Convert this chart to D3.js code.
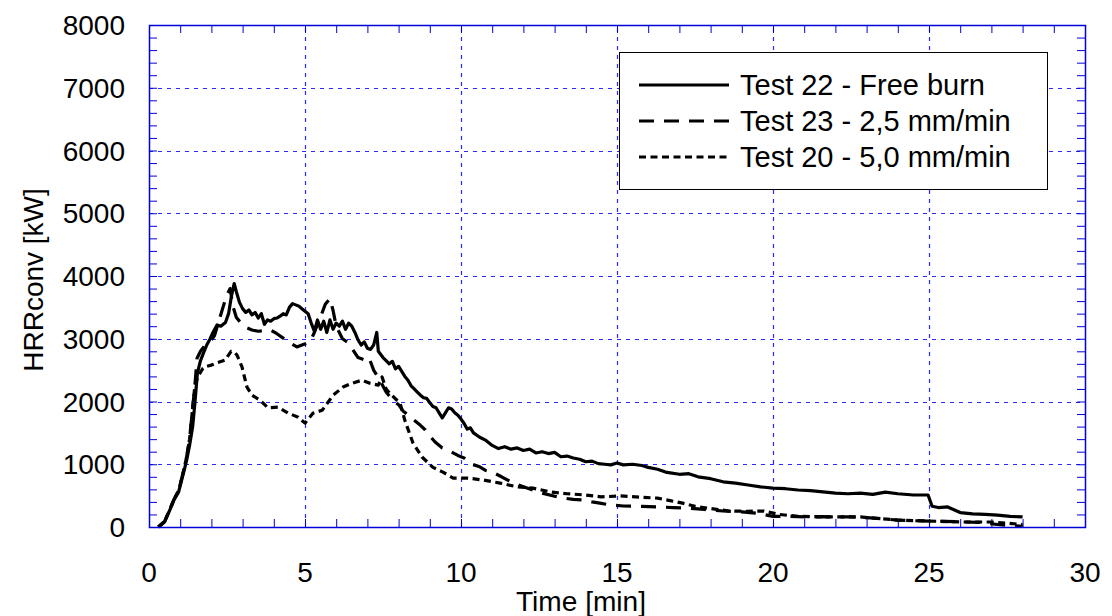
<!DOCTYPE html>
<html>
<head>
<meta charset="utf-8">
<script src="https://cdn.jsdelivr.net/npm/d3@7"></script>
<style>
  body { margin: 0; background: #fff; }
  svg { display: block; font-family: "Liberation Sans", Arial, sans-serif; }
</style>
</head>
<body>
<div id="chart"></div>
<script>
// Data
//////////////////////////////////////////////////////////////////////
var xTicks = [0, 5, 10, 15, 20, 25, 30];
var yTicks = [0, 1000, 2000, 3000, 4000, 5000, 6000, 7000, 8000];
var seriesNames = ["Test 22 - Free burn", "Test 23 - 2,5 mm/min", "Test 20 - 5,0 mm/min"];

// Test 22 - free burn (solid)
var t22 = [0.3, 0.5, 0.65, 0.8, 0.95, 1.1, 1.2, 1.3, 1.4, 1.47, 1.55, 1.65, 1.75, 1.85, 1.96, 2.05, 2.18, 2.3, 2.45, 2.55, 2.65, 2.73, 2.8, 2.9,
  3.0, 3.1, 3.2, 3.3, 3.4, 3.5, 3.6, 3.7, 3.8, 3.9, 4.0, 4.1, 4.2, 4.3, 4.4, 4.5, 4.6, 4.7, 4.8, 4.9,
  5.0, 5.1, 5.2, 5.3, 5.4, 5.5, 5.6, 5.7, 5.8, 5.9, 6.0, 6.1, 6.2, 6.3, 6.4, 6.5, 6.6, 6.7, 6.8, 6.9,
  7.0, 7.1, 7.2, 7.3, 7.35, 7.5, 7.6, 7.7, 7.8, 7.9, 8.0, 8.1, 8.2, 8.3, 8.4, 8.5, 8.6, 8.7, 8.8, 8.9,
  9.0, 9.1, 9.2, 9.3, 9.4, 9.5, 9.6, 9.7, 9.8, 9.9, 10.0, 10.1, 10.2, 10.3, 10.4, 10.6, 10.8,
  11.0, 11.2, 11.4, 11.6, 11.8, 12.0, 12.2, 12.4, 12.6, 12.8, 13.0, 13.2, 13.4, 13.6, 13.8,
  14.0, 14.2, 14.4, 14.6, 14.8, 15.0, 15.2, 15.5, 15.8, 16.0, 16.3, 16.6, 17.0, 17.3, 17.6,
  18.0, 18.4, 18.8, 19.2, 19.6, 20.0, 20.4, 20.8, 21.2, 21.6, 22.0, 22.4, 22.8, 23.2, 23.6,
  24.0, 24.5, 24.97, 25.1, 25.3, 25.6, 26.0, 26.4, 26.8, 27.2, 27.6, 28.0];
var hrr22 = [0, 80, 250, 430, 560, 850, 1050, 1300, 1600, 1970, 2450, 2650, 2780, 2900, 3000, 3100, 3220, 3200, 3260, 3400, 3700, 3880, 3750, 3580,
  3480, 3420, 3460, 3380, 3420, 3330, 3400, 3230, 3300, 3280, 3320, 3330, 3360, 3400, 3380, 3500, 3560, 3540, 3520, 3480,
  3440, 3400, 3250, 3120, 3300, 3150, 3280, 3100, 3300, 3150, 3250, 3200, 3280, 3150, 3250, 3200, 3100, 2980, 2900, 2950,
  2850, 2830, 2900, 3100, 2800, 2700, 2650, 2600, 2640, 2520, 2560, 2480, 2400, 2340, 2250, 2200, 2150, 2100, 2060, 2050,
  1980, 1920, 1900, 1820, 1740, 1820, 1900, 1880, 1820, 1780, 1720, 1650, 1560, 1580, 1500, 1430, 1380,
  1300, 1250, 1280, 1240, 1260, 1220, 1240, 1180, 1200, 1170, 1190, 1120, 1130, 1100, 1080,
  1040, 1050, 1010, 1000, 990, 1020, 990, 1000, 980, 950, 920, 870, 840, 850, 800,
  770, 720, 700, 670, 640, 620, 610, 590, 580, 560, 540, 530, 540, 520, 555,
  530, 510, 510, 330, 310, 320, 230, 210, 200, 190, 170, 160];

// Test 23 - 2,5 mm/min (dashed)
var t23 = [0.3, 0.5, 0.65, 0.8, 0.95, 1.1, 1.2, 1.3, 1.4, 1.47, 1.54, 1.65, 1.8, 1.96, 2.1, 2.25, 2.37, 2.5, 2.6, 2.7, 2.8, 2.95,
  3.1, 3.3, 3.5, 3.7, 3.9, 4.1, 4.3, 4.5, 4.74, 4.9, 5.16, 5.3, 5.5, 5.65, 5.8, 5.9, 6.0, 6.2, 6.35, 6.5, 6.7, 6.92,
  7.05, 7.2, 7.4, 7.6, 7.82, 8.0, 8.14, 8.27, 8.5, 8.7, 8.85, 9.0, 9.17, 9.4, 9.7, 9.9, 10.1, 10.35, 10.6, 10.8,
  11.0, 11.3, 11.6, 12.0, 12.3, 12.6, 13.0, 13.3, 13.6, 13.9, 14.2, 14.45, 14.8, 15.2, 15.8, 16.3, 16.8, 17.3, 17.8,
  18.4, 19.0, 19.5, 20.0, 20.5, 21.1, 21.6, 22.0, 22.5, 23.0, 23.5, 24.0, 24.5, 25.0, 25.5, 26.1, 26.6, 27.2, 28.0];
var hrr23 = [0, 90, 260, 440, 580, 880, 1100, 1400, 1900, 2250, 2690, 2800, 2900, 2950, 3050, 3300, 3500, 3700, 3800, 3500, 3340, 3250,
  3180, 3140, 3120, 3130, 3140, 3080, 3010, 2940, 2870, 2900, 2950, 3100, 3350, 3550, 3640, 3450, 3200, 3000, 2950, 2850, 2700, 2660,
  2700, 2500, 2340, 2150, 2020, 1950, 1850, 1800, 1700, 1620, 1550, 1450, 1355, 1260, 1195, 1140, 1100, 1000, 960, 900,
  875, 800, 720, 640, 590, 540, 490, 460, 440, 430, 400, 380, 350, 335, 330, 320, 310, 300, 280,
  255, 240, 220, 170, 170, 160, 165, 160, 160, 150, 130, 110, 100, 95, 90, 80, 75, 40, 10];

// Test 20 - 5,0 mm/min (dotted)
var t20 = [0.3, 0.5, 0.65, 0.8, 0.95, 1.1, 1.2, 1.3, 1.4, 1.47, 1.57, 1.73, 1.85, 2.0, 2.2, 2.44, 2.63, 2.75, 2.82, 2.98,
  3.14, 3.3, 3.56, 3.81, 4.13, 4.46, 4.78, 5.0, 5.26, 5.55, 5.9, 6.22, 6.5, 6.83, 7.08, 7.35, 7.47, 7.6, 7.72,
  8.05, 8.2, 8.46, 8.75, 9.1, 9.42, 9.75, 10.2, 10.7, 11.25, 11.8, 12.3, 12.85, 13.4, 14.0, 14.5, 15.1, 15.6,
  16.3, 16.7, 17.1, 17.5, 17.9, 18.6, 19.2, 19.7, 20.2, 20.8, 21.8, 22.8, 24.0, 25.0, 26.1, 27.0, 27.5, 28.0];
var hrr20 = [0, 90, 260, 440, 580, 880, 1100, 1400, 1900, 2250, 2400, 2530, 2560, 2580, 2620, 2660, 2800, 2780, 2740, 2550,
  2230, 2100, 2020, 1900, 1910, 1815, 1750, 1655, 1815, 1860, 2100, 2230, 2290, 2340, 2290, 2260, 2390, 2200, 2130,
  1970, 1700, 1340, 1115, 950, 875, 780, 780, 750, 700, 640, 620, 560, 530, 510, 480, 495, 480,
  460, 420, 380, 330, 300, 255, 250, 255, 200, 170, 160, 160, 110, 95, 80, 80, 60, 40];

// Layout
//////////////////////////////////////////////////////////////////////
var width = 1112, height = 616;
var margin = { top: 25, right: 27, bottom: 89, left: 149 };
var frameColor = "#0000d8";
var gridColor = "#2a2aff";

var svg = d3.select("#chart").append("svg")
  .attr("width", width)
  .attr("height", height);

var x = d3.scaleLinear().domain([0, 30]).range([margin.left, width - margin.right]);
var y = d3.scaleLinear().domain([0, 8000]).range([height - margin.bottom, margin.top]);

// grid
var grid = svg.append("g")
  .attr("stroke", gridColor)
  .attr("stroke-width", 1.2)
  .attr("stroke-dasharray", "4,5");
grid.selectAll("line.gx")
  .data(xTicks.slice(1, -1))
  .join("line")
  .attr("class", "gx")
  .attr("x1", d => Math.round(x(d)) + 0.5).attr("x2", d => Math.round(x(d)) + 0.5)
  .attr("y1", y(0)).attr("y2", y(8000));
grid.selectAll("line.gy")
  .data(yTicks.slice(1, -1))
  .join("line")
  .attr("class", "gy")
  .attr("y1", d => Math.round(y(d)) + 0.5).attr("y2", d => Math.round(y(d)) + 0.5)
  .attr("x1", x(0)).attr("x2", x(30));

// axes with inward ticks on all four sides
var xMinor = d3.range(0, 31, 1);
var yMinor = d3.range(0, 8001, 200);

function styleAxis(g) {
  g.select(".domain").remove();
  g.selectAll(".tick line").attr("stroke", frameColor);
}

svg.append("g")
  .attr("transform", `translate(0,${y(0)})`)
  .call(d3.axisBottom(x).tickValues(xMinor).tickSize(-8).tickFormat(""))
  .call(styleAxis);
svg.append("g")
  .attr("transform", `translate(0,${y(8000)})`)
  .call(d3.axisTop(x).tickValues(xMinor).tickSize(-8).tickFormat(""))
  .call(styleAxis);
svg.append("g")
  .attr("transform", `translate(${x(0)},0)`)
  .call(d3.axisLeft(y).tickValues(yMinor).tickSize(-8).tickFormat(""))
  .call(styleAxis);
svg.append("g")
  .attr("transform", `translate(${x(30)},0)`)
  .call(d3.axisRight(y).tickValues(yMinor).tickSize(-8).tickFormat(""))
  .call(styleAxis);

// tick labels
svg.append("g")
  .attr("font-size", 28)
  .attr("fill", "#000")
  .attr("text-anchor", "middle")
  .selectAll("text")
  .data(xTicks)
  .join("text")
  .attr("x", d => x(d))
  .attr("y", 582)
  .text(d => d);
svg.append("g")
  .attr("font-size", 28)
  .attr("fill", "#000")
  .attr("text-anchor", "end")
  .selectAll("text")
  .data(yTicks)
  .join("text")
  .attr("x", 125)
  .attr("y", d => y(d))
  .attr("dy", "0.36em")
  .text(d => d);

// axis titles
svg.append("text")
  .attr("x", 581)
  .attr("y", 611)
  .attr("text-anchor", "middle")
  .attr("font-size", 28)
  .attr("textLength", 130)
  .attr("lengthAdjust", "spacingAndGlyphs")
  .text("Time [min]");
svg.append("text")
  .attr("transform", "translate(43,280) rotate(-90)")
  .attr("text-anchor", "middle")
  .attr("font-size", 28)
  .text("HRRconv [kW]");

// series
var dashes = [null, "15,10", "7,4.5"];
var series = [
  { name: seriesNames[0], t: t22, v: hrr22 },
  { name: seriesNames[1], t: t23, v: hrr23 },
  { name: seriesNames[2], t: t20, v: hrr20 }
];
var line = d3.line()
  .x(d => x(d[0]))
  .y(d => y(d[1]));

svg.append("g")
  .attr("fill", "none")
  .attr("stroke", "#000")
  .attr("stroke-width", 3.2)
  .attr("stroke-linejoin", "round")
  .selectAll("path")
  .data(series)
  .join("path")
  .attr("stroke-dasharray", (d, i) => dashes[i])
  .attr("d", d => line(d.t.map((t, i) => [t, d.v[i]])));

// frame
svg.append("rect")
  .attr("x", x(0) + 0.5)
  .attr("y", y(8000) + 0.5)
  .attr("width", x(30) - x(0))
  .attr("height", y(0) - y(8000))
  .attr("fill", "none")
  .attr("stroke", frameColor)
  .attr("stroke-width", 1.5);

// legend
var legend = svg.append("g");
legend.append("rect")
  .attr("x", 619.5).attr("y", 52.5)
  .attr("width", 428).attr("height", 137)
  .attr("fill", "#fff")
  .attr("stroke", "#000")
  .attr("stroke-width", 1);
var items = legend.selectAll("g")
  .data(series)
  .join("g")
  .attr("transform", (d, i) => `translate(0,${85 + i * 36})`);
items.append("line")
  .attr("x1", 639).attr("x2", 729)
  .attr("stroke", "#000")
  .attr("stroke-width", 3)
  .attr("stroke-dasharray", (d, i) => dashes[i]);
items.append("text")
  .attr("x", 740)
  .attr("y", 10)
  .attr("font-size", 29)
  .text(d => d.name);
</script>
</body>
</html>
